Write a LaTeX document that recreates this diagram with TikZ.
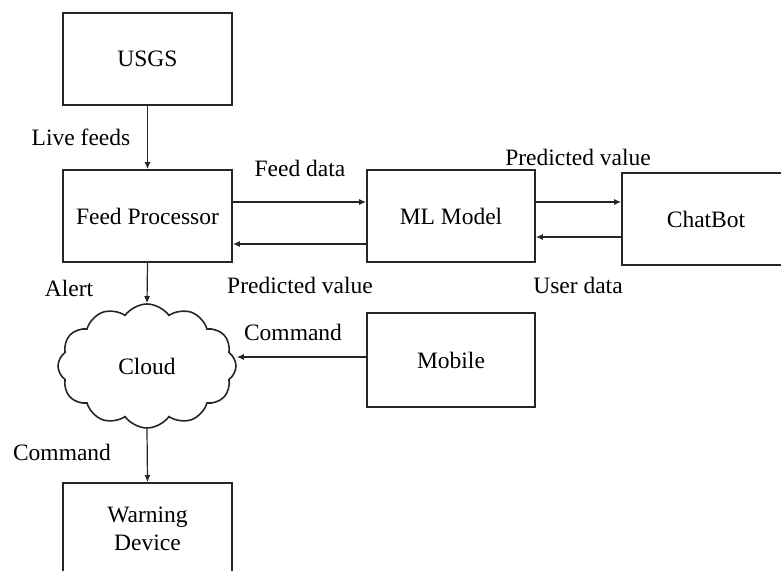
\documentclass[tikz,border=0pt]{standalone}
\usepackage{fontspec}
\setmainfont{Liberation Serif}
\usetikzlibrary{arrows.meta,shapes.symbols}
\begin{document}
\begin{tikzpicture}[x=1pt,y=-1pt,
  every node/.style={font=\fontsize{23.5}{28}\selectfont,text=black},
  box/.style={draw=black!85,line width=1.8pt,minimum width=169pt,minimum height=92pt,inner sep=0pt,align=center},
  conn/.style={draw=black!85,line width=1.2pt,-{Latex[length=7pt,width=6pt]}},
  lbl/.style={inner sep=0pt},
  cloudshape/.style={draw=black!85,line width=1.6pt,cloud,cloud puffs=12,cloud puff arc=110,cloud ignores aspect,minimum width=178pt,minimum height=124pt,inner sep=0pt}]
\useasboundingbox (0,0) rectangle (781,570);
\clip (0,0) rectangle (781,570);
\node[box] (usgs) at (147.5,59) {USGS};
\node[box] (fp) at (147.5,216) {Feed Processor};
\node[box,minimum width=168pt] (ml) at (451,216) {ML Model};
\node[box,minimum width=168pt] (cb) at (706,219) {ChatBot};
\node[box,minimum width=168pt,minimum height=94pt] (mob) at (451,360) {Mobile};
\node[cloudshape] (cl) at (147,366) {Cloud};
\node[box] (wd) at (147.5,529) {Warning\\Device};
% connectors
\draw[conn] (usgs.south) -- (fp.north);
\draw[conn] ([yshift=14pt]fp.east) -- ([yshift=14pt]ml.west);
\draw[conn] ([yshift=-28pt]ml.west) -- ([yshift=-28pt]fp.east);
\draw[conn] ([yshift=14pt]ml.east) -- ([yshift=14pt]ml.east -| cb.west);
\draw[conn] ([yshift=-21pt]ml.east -| cb.west) -- ([yshift=-21pt]ml.east);
\draw[conn] (fp.south) -- (cl.north);
\draw[conn] ([yshift=3pt]mob.west) -- ([yshift=3pt]mob.west -| cl.east);
\draw[conn] (cl.south) -- (wd.north);
% labels
\node[lbl] (lf) at (81,137) {Live feeds};
\node[lbl] (fd) at (300,168) {Feed data};
\node[lbl] (pv1) at (300,285) {Predicted value};
\node[lbl] (al) at (69,288) {Alert};
\node[lbl] (pv2) at (578,157) {Predicted value};
\node[lbl] (ud) at (578,285) {User data};
\node[lbl] (cm1) at (293,332) {Command};
\node[lbl] (cm2) at (62,452) {Command};
\end{tikzpicture}
\end{document}
